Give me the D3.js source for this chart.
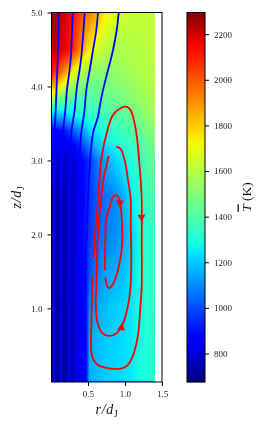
<!DOCTYPE html>
<html><head><meta charset="utf-8">
<script src="https://cdn.jsdelivr.net/npm/d3@7/dist/d3.min.js"></script>
<style>html,body{margin:0;padding:0;background:#fff;overflow:hidden}svg{display:block;filter:blur(.35px)}
text{font-family:"Liberation Serif",serif}</style></head><body>
<svg id="c" width="264" height="427"></svg>
<script>
const rGrid=[.007,.1,.2,.3,.4,.48,.52,.6,.7,.8,.9,1.0,1.1,1.2,1.3,1.4];
const zGrid=[.005,.03,.6,1,1.5,2,2.5,3,3.2,3.4,3.6,3.8,4,4.2,4.5,5];
const row00=[850,850,850,850,860,870,1000,1020,1030,1030,1040,1050,1050,1060,1070,1080];
const row01=[740,720,730,760,830,900,1160,1180,1200,1210,1220,1235,1255,1280,1300,1320];
const row02=[740,720,730,760,830,900,1140,1170,1190,1210,1220,1235,1255,1285,1310,1330];
const row03=[740,720,730,770,840,920,1085,1135,1170,1195,1210,1220,1250,1285,1315,1335];
const row04=[740,720,740,780,850,920,1000,1070,1120,1145,1165,1190,1240,1290,1325,1345];
const row05=[750,730,750,780,850,920,960,1020,1060,1090,1110,1160,1220,1290,1320,1340];
const row06=[750,735,750,780,840,920,960,1010,1050,1080,1110,1180,1260,1310,1350,1390];
const row07=[790,780,790,800,850,920,970,1050,1120,1180,1230,1270,1310,1350,1400,1440];
const row08=[830,830,830,860,950,1050,1090,1170,1230,1260,1290,1320,1350,1380,1430,1470];
const row09=[870,870,920,1020,1110,1180,1220,1260,1290,1320,1350,1370,1400,1430,1480,1520];
const row10=[1150,1170,1200,1250,1290,1310,1330,1340,1360,1380,1400,1420,1450,1480,1520,1560];
const row11=[1500,1420,1390,1370,1380,1385,1390,1400,1420,1440,1450,1470,1500,1530,1560,1590];
const row12=[1900,1750,1640,1540,1480,1460,1450,1450,1470,1480,1500,1520,1540,1560,1580,1600];
const row13=[2120,2030,1880,1730,1600,1550,1530,1520,1510,1520,1530,1550,1570,1590,1600,1610];
const row14=[2240,2210,2170,2080,1930,1790,1750,1670,1620,1590,1580,1585,1590,1600,1610,1620];
const row15=[2270,2250,2190,2120,2030,1960,1930,1880,1770,1700,1660,1640,1620,1620,1620,1620];
const rows=[row00,row01,row02,row03,row04,row05,row06,row07,row08,row09,row10,row11,row12,row13,row14,row15];

const blue1R=[.104,.095,.074,.064,.05,.041,.041];
const blue1Z=[5,4.49,3.95,3.68,3.37,2.47,.005];
const blue2R=[.293,.284,.266,.216,.193,.162,.139,.135];
const blue2Z=[5,4.76,4.36,3.95,3.68,3.37,2.91,.005];
const blue3R=[.455,.439,.405,.345,.32,.274,.257,.243,.239];
const blue3Z=[5,4.76,4.36,3.95,3.68,3.37,2.94,2.47,.005];
const blue4R=[.635,.612,.568,.523,.477,.453,.409,.374,.355,.338];
const blue4Z=[5,4.76,4.49,4.22,3.95,3.68,3.37,2.91,2.47,.005];
const blue5R=[.915,.888,.838,.77,.703,.662,.635,.568,.523,.5,.466,.446];
const blue5Z=[5,4.76,4.49,4.22,3.95,3.75,3.59,3.37,2.91,2.47,1.39,.005];
const redAR=[.561,.547,.545,.568,.635,.743,.861,.959,1.041,1.095,1.122,1.176,1.212,1.226,1.226,1.226,1.199,1.153,1.108,1.063,1.009,.946,.838,.753,.685,.655,.628,.601,.577];
const redAZ=[1.426,.845,.412,.318,.236,.196,.182,.189,.236,.331,.399,.642,1.088,1.318,1.926,2.466,2.912,3.372,3.592,3.696,3.727,3.709,3.615,3.372,3.047,2.736,2.372,2.061,1.682];
const redBR=[.882,.912,.95,1.004,1.041,1.077,1.077,1.085,1.077,1.05,1.0,.959,.905,.851,.793,.73,.68,.626,.604,.612,.622,.645,.676,.716,.78];
const redBZ=[3.182,3.176,3.142,2.966,2.736,2.466,2.155,1.696,1.318,1.088,.872,.764,.682,.642,.628,.642,.682,.818,1.088,1.25,1.696,2.155,2.466,2.777,3.06];
const redCR=[.726,.73,.734,.739,.757,.793,.838,.874,.905,.928,.959,.959,.915,.847,.811,.793,.764,.747,.734];
const redCZ=[1.52,1.72,1.926,2.155,2.264,2.372,2.507,2.534,2.514,2.466,2.155,1.831,1.561,1.345,1.291,1.277,1.291,1.345,1.426];
const arrowR=[1.223,.932,.95];
const arrowZ=[2.236,2.426,.736];
const arrowAngle=[180,180,5];
const rTicks=[.5,1,1.5];
const zTicks=[1,2,3,4,5];
const cTicks=[800,1000,1200,1400,1600,1800,2000,2200];

const x=d3.scaleLinear().domain([.007,1.5]).range([51.5,162]);
const y=d3.scaleLinear().domain([.005,5]).range([382,12.5]);
const cy=d3.scaleLinear().domain([675,2295]).range([382,12.5]);
const jetStops=[[0,"#000080"],[.11,"#0000ff"],[.125,"#0000ff"],[.35,"#00e5ff"],[.375,"#14ffe3"],[.5,"#7bff7b"],[.64,"#eeff08"],[.66,"#ffec00"],[.89,"#ff1200"],[.91,"#ff0000"],[1,"#800000"]];
const color=d3.scaleLinear().domain(jetStops.map(s=>675+s[0]*(2295-675))).range(jetStops.map(s=>s[1])).clamp(true);

function field(r,z){
  const i=Math.max(0,Math.min(rGrid.length-2,d3.bisectRight(rGrid,r)-1));
  const j=Math.max(0,Math.min(zGrid.length-2,d3.bisectRight(zGrid,z)-1));
  const a=(r-rGrid[i])/(rGrid[i+1]-rGrid[i]),b=(z-zGrid[j])/(zGrid[j+1]-zGrid[j]);
  return (1-b)*((1-a)*rows[j][i]+a*rows[j][i+1])+b*((1-a)*rows[j+1][i]+a*rows[j+1][i+1]);
}
const x0=Math.round(x(rGrid[0])),x1=Math.round(x(1.4)),y0=Math.round(y(5)),y1=Math.round(y(.005));
const cv=document.createElement("canvas");cv.width=x1-x0;cv.height=y1-y0;
const ctx=cv.getContext("2d");
for(let py=y0;py<y1;py++)for(let px=x0;px<x1;px++){
  ctx.fillStyle=color(field(x.invert(px+.5),y.invert(py+.5)));
  ctx.fillRect(px-x0,py-y0,1,1);
}
const svg=d3.select("#c");
svg.append("rect").attr("width",264).attr("height",427).attr("fill","#fff");
svg.append("image").attr("x",x0).attr("y",y0).attr("width",x1-x0).attr("height",y1-y0).attr("href",cv.toDataURL());

const line=d3.line().x(d=>x(d[0])).y(d=>y(d[1])).curve(d3.curveCatmullRom.alpha(.5));
const blues=[[blue1R,blue1Z],[blue2R,blue2Z],[blue3R,blue3Z],[blue4R,blue4Z],[blue5R,blue5Z]];
const reds=[[redAR,redAZ],[redBR,redBZ],[redCR,redCZ]];
const plot=(set,col)=>set.forEach(([a,b])=>svg.append("path").attr("d",line(d3.zip(a,b))).attr("fill","none").attr("stroke",col).attr("stroke-width",1.8));
plot(blues,"#0000ff");plot(reds,"#ff0000");
const tri=d3.symbol().type(d3.symbolTriangle).size(28);
arrowR.forEach((r,i)=>svg.append("path").attr("d",tri()).attr("fill","#ff0000")
  .attr("transform",`translate(${x(r)},${y(arrowZ[i])}) rotate(${arrowAngle[i]})`));

const styleAxis=g=>{g.selectAll("text").attr("font-size",9).attr("fill","#222").style("font-family",'"Liberation Serif",serif');
  g.selectAll("line").attr("stroke","#000").attr("stroke-width",1);g.select(".domain").remove();};
svg.append("g").attr("transform","translate(0,382)").call(d3.axisBottom(x).tickValues(rTicks).tickFormat(d3.format(".1f")).tickSize(4).tickPadding(5)).call(styleAxis);
svg.append("g").attr("transform","translate(51.5,0)").call(d3.axisLeft(y).tickValues(zTicks).tickFormat(d3.format(".1f")).tickSize(4).tickPadding(5)).call(styleAxis);
svg.append("rect").attr("x",51.5).attr("y",12.5).attr("width",110.5).attr("height",369.5).attr("fill","none").attr("stroke","#000").attr("stroke-width",1);

// colour bar
svg.append("g").selectAll("rect").data(d3.range(12,382)).join("rect")
  .attr("x",187).attr("y",d=>d).attr("width",18).attr("height",1.2).attr("fill",d=>color(cy.invert(d+.5)));
svg.append("rect").attr("x",187).attr("y",12.5).attr("width",18).attr("height",369.5).attr("fill","none").attr("stroke","#000").attr("stroke-width",1);
svg.append("g").attr("transform","translate(205,0)").call(d3.axisRight(cy).tickValues(cTicks).tickFormat(d3.format("d")).tickSize(4).tickPadding(5)).call(styleAxis);

// axis labels
function mathLabel(base,tx,ty,rot){
  const el=svg.append("text").attr("transform",`translate(${tx},${ty}) rotate(${rot})`).attr("text-anchor","middle").attr("font-size",14).attr("letter-spacing",.7).attr("fill","#111");
  el.append("tspan").attr("font-style","italic").text(base+"/d");
  el.append("tspan").attr("font-size",9.5).attr("dy",2.5).text("J");
}
mathLabel("r",107,414,0);
mathLabel("z",21,197,-90);
const ct=svg.append("text").attr("transform","translate(250.5,197) rotate(-90)").attr("text-anchor","middle").attr("font-size",13.5).attr("fill","#111");
ct.append("tspan").attr("font-style","italic").style("text-decoration","overline").text("T");
ct.append("tspan").text(" (K)");
</script></body></html>
